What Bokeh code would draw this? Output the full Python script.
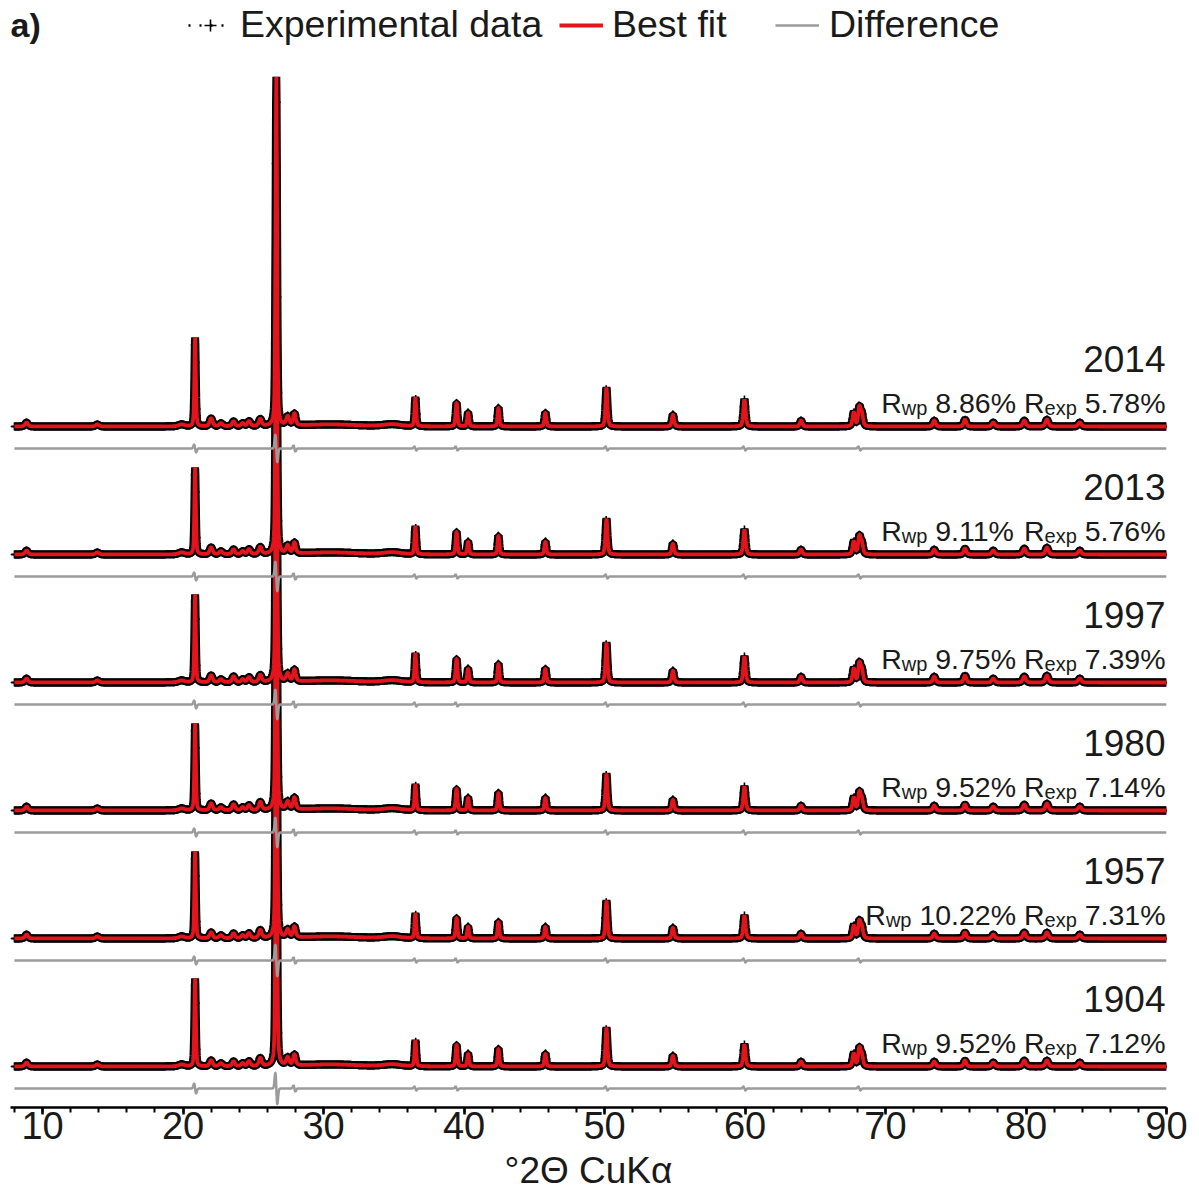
import numpy as np
from bokeh.plotting import figure
from bokeh.models import (ColumnDataSource, Label, Range1d, FixedTicker, Legend, LegendItem)
from bokeh.embed import file_html
from bokeh.resources import INLINE

# ---------------- data ----------------
years = ["1904", "1957", "1980", "1997", "2013", "2014"]
rwp = ["9.52%", "10.22%", "9.52%", "9.75%", "9.11%", "8.86%"]
rexp = ["7.12%", "7.31%", "7.14%", "7.39%", "5.76%", "5.78%"]

# reflections (degrees 2-theta) and their widths (FWHM, degrees)
peak_pos = [8.86, 13.90, 19.90, 20.86, 22.00, 22.70, 23.60, 24.25, 24.70, 25.50,
            26.64, 27.45, 27.93, 30.50, 34.90, 36.54, 39.47, 40.29, 42.45, 45.79,
            50.14, 54.87, 59.96, 63.99, 67.74, 68.14, 68.32, 73.47, 75.66, 77.67,
            79.88, 81.49, 83.83]
peak_fwhm = [0.25, 0.30, 0.50, 0.12, 0.25, 0.30, 0.25, 0.25, 0.25, 0.25,
             0.13, 0.25, 0.22, 5.00, 1.50, 0.14, 0.15, 0.15, 0.15, 0.16,
             0.17, 0.18, 0.19, 0.20, 0.20, 0.20, 0.20, 0.22, 0.22, 0.24,
             0.25, 0.25, 0.26]
# peak heights (arbitrary units) per sample
h_1904 = [4, 2, 2, 88, 6, 3, 5, 3, 5, 8, 346, 8, 11, 2, 2, 26, 22, 13, 18, 13, 39, 11, 22, 5, 13, 18, 11, 5, 6, 4, 6, 6, 4]
h_1957 = [4, 2, 2, 87, 6, 3, 5, 3, 5, 8, 346, 8, 11, 2, 2, 25, 21, 12, 17, 12, 38, 11, 23, 5, 13, 17, 11, 5, 6, 4, 6, 6, 4]
h_1980 = [4, 2, 2, 87, 7, 3, 6, 3, 5, 8, 346, 8, 12, 2, 2, 26, 22, 13, 18, 13, 37, 11, 24, 5, 13, 18, 11, 5, 6, 4, 6, 7, 4]
h_1997 = [4, 2, 2, 88, 7, 3, 6, 3, 5, 7, 346, 8, 12, 2, 2, 29, 24, 14, 19, 14, 40, 12, 26, 6, 14, 19, 12, 6, 7, 4, 6, 7, 4]
h_2013 = [4, 2, 2, 87, 7, 3, 5, 3, 5, 7, 346, 8, 11, 2, 2, 28, 23, 13, 19, 13, 36, 11, 25, 5, 13, 18, 11, 5, 6, 4, 6, 7, 4]
h_2014 = [4, 2, 2, 89, 8, 3, 5, 3, 5, 7, 349, 9, 12, 2, 2, 29, 24, 14, 19, 14, 39, 12, 27, 6, 14, 19, 12, 6, 7, 4, 6, 7, 4]
heights = [h_1904, h_1957, h_1980, h_1997, h_2013, h_2014]

# misfit features of the difference curves (position, amplitude per sample)
diff_pos = [20.86, 26.64, 27.93, 36.54, 39.47, 50.14, 59.96, 68.14]
d_1904 = [5, 16, 3, 2, 2, 2, 2, 2]
d_1957 = [4, 16, 3, 2, 2, 2, 2, 2]
d_1980 = [4, 15, 3, 2, 2, 2, 2, 2]
d_1997 = [4, 15, 3, 2, 2, 2, 2, 2]
d_2013 = [4, 15, 3, 2, 2, 2, 2, 2]
d_2014 = [4, 14, 3, 2, 2, 2, 2, 2]
diff_amps = [d_1904, d_1957, d_1980, d_1997, d_2013, d_2014]

tick_vals = [10, 20, 30, 40, 50, 60, 70, 80, 90]
x_title = "°2Θ CuKα"

# ---------------- layout constants ----------------
offsets = [41, 169, 297, 425, 553, 681]   # vertical stacking of the patterns
diff_gap = 22
RED = "#e3141b"
GREY = "#9b9b9b"
FONT = "Liberation Sans"
TXT = "#1a1a1a"
X0, X1 = 7.72, 90.0

x = np.arange(8.0, 90.0001, 0.02)


def profile(hs):
    y = np.zeros_like(x)
    for x0, w, h in zip(peak_pos, peak_fwhm, hs):
        t = (x - x0) / w
        g = np.exp(-4 * np.log(2) * t ** 2)
        l = 1.0 / (1.0 + 4 * t ** 2)
        y += h * (0.4 * l + 0.6 * g)
    return y


def difference(amps):
    y = np.zeros_like(x)
    s = 0.07
    for x0, a in zip(diff_pos, amps):
        t = (x0 - x) / s
        y += a * t * np.exp(0.5 - 0.5 * t ** 2)
    return y


p = figure(width=1195, height=1198, output_backend="svg", toolbar_location=None,
           x_range=Range1d(X0, X1), y_range=Range1d(0, 1107),
           y_axis_location=None, min_border_left=10, min_border_right=29,
           min_border_top=0, min_border_bottom=91)
p.grid.visible = False
p.outline_line_color = None
p.background_fill_color = "white"

srcs = []
for i, yr in enumerate(years):
    calc = profile(heights[i]) + offsets[i]
    diff = difference(diff_amps[i]) + offsets[i] - diff_gap
    srcs.append(ColumnDataSource(dict(x=x, obs=calc, calc=calc, diff=diff)))

obs_r, fit_r, diff_r = [], [], []
for s in srcs:
    p.line("x", "obs", source=s, line_color="black", line_width=8)
for s in srcs:
    sub = ColumnDataSource(dict(x=s.data["x"][::3], obs=s.data["obs"][::3]))
    obs_r.append(p.scatter("x", "obs", source=sub, marker="cross", size=8,
                           line_color="black", line_width=1.6))
for s in srcs:
    fit_r.append(p.line("x", "calc", source=s, line_color=RED, line_width=3.8))
for s in srcs:
    diff_r.append(p.line("x", "diff", source=s, line_color=GREY, line_width=2.5))

# hidden dotted copy of the observed data, only used to draw the "+ + +" legend key
dots_key = p.line("x", "obs", source=srcs[-1], line_color="black", line_width=2.5,
                  line_dash="2 9", visible=False)

# ---------------- text labels ----------------
W = {'0': .556, '1': .556, '2': .556, '3': .556, '4': .556, '5': .556, '6': .556,
     '7': .556, '8': .556, '9': .556, '.': .278, '%': .889, ' ': .278, 'R': .722,
     'w': .722, 'p': .556, 'e': .556, 'x': .5}


def tw(s, size):
    return sum(W[c] for c in s) * size


BASE_FIX = 0.35   # labels are drawn this many em below the requested baseline
BIG, SUB, YEAR = 28.5, 20, 37
for i, yr in enumerate(years):
    base = offsets[i]
    p.add_layout(Label(x=X1, y=base + 55 + BASE_FIX * YEAR, x_offset=-1, text=yr,
                       text_align="right", text_baseline="alphabetic", text_font=FONT,
                       text_font_size=f"{YEAR}px", text_color=TXT))
    pieces = [("R", BIG, 0), ("wp", SUB, -2), (" ", BIG, 0), (rwp[i], BIG, 0),
              (" ", BIG, 0), ("R", BIG, 0), ("exp", SUB, -2), (" ", BIG, 0),
              (rexp[i], BIG, 0)]
    total = sum(tw(t, sz) for t, sz, _ in pieces)
    pos = 0.0
    for t, sz, dy in pieces:
        if t.strip():
            p.add_layout(Label(x=X1, y=base + 14 + dy + BASE_FIX * sz,
                               x_offset=-(total - pos) - 1,
                               text=t, text_align="left", text_baseline="alphabetic",
                               text_font=FONT, text_font_size=f"{sz}px",
                               text_color=TXT))
        pos += tw(t, sz)

p.add_layout(Label(x=X0, y=1083, x_offset=0, text="a)", text_align="left",
                   text_baseline="middle", text_font=FONT, text_font_size="34px",
                   text_font_style="bold", text_color=TXT))

# ---------------- legends ----------------
def mk_legend(label, rends, vx, gw, standoff):
    lg = Legend(items=[LegendItem(label=label, renderers=rends)],
                location=(vx, 1061), orientation="horizontal",
                border_line_color=None, background_fill_alpha=0,
                padding=0, margin=0, spacing=0, glyph_width=gw, glyph_height=30,
                label_standoff=standoff, label_text_font=FONT,
                label_text_font_size="37.5px", label_text_color=TXT)
    p.add_layout(lg)


mk_legend("Experimental data", [dots_key, obs_r[-1]], 178, 44, 8)
mk_legend("Best fit", [fit_r[-1]], 549, 44, 9)
mk_legend("Difference", [diff_r[-1]], 765, 44, 10)

# ---------------- axis ----------------
ax = p.xaxis[0]
ax.ticker = FixedTicker(ticks=tick_vals, minor_ticks=list(range(8, 91, 2)))
ax.axis_line_width = 2.5
ax.axis_line_color = "black"
ax.major_tick_in = 0
ax.major_tick_out = 7
ax.minor_tick_in = 0
ax.minor_tick_out = 5
ax.major_tick_line_width = 2.5
ax.minor_tick_line_width = 2
ax.major_label_text_font = FONT
ax.major_label_text_font_size = "38px"
ax.major_label_text_color = TXT
ax.major_label_standoff = -3
ax.axis_label = x_title
ax.axis_label_text_font = FONT
ax.axis_label_text_font_size = "37px"
ax.axis_label_text_font_style = "normal"
ax.axis_label_text_color = TXT
ax.axis_label_standoff = 8

open("out.html", "w").write(file_html(p, INLINE))
